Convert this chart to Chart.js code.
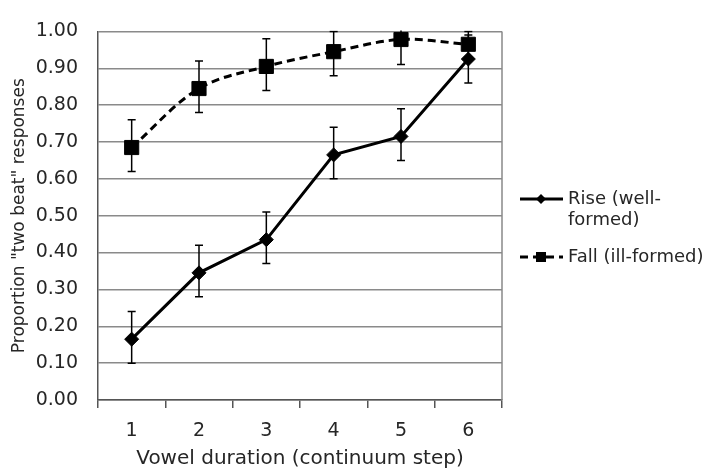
<!DOCTYPE html>
<html>
<head>
<meta charset="utf-8">
<script src="https://cdn.jsdelivr.net/npm/chart.js@4"></script>
<style>
  html, body { margin: 0; padding: 0; background: #fff; }
  #wrap { width: 709px; height: 469px; }
</style>
</head>
<body>
<div id="wrap"><canvas id="c" width="709" height="469"></canvas></div>
<script>
const steps = ['1', '2', '3', '4', '5', '6'];
const riseLabel = ['Rise (well-', 'formed)'];
const fallLabel = ['Fall (ill-formed)'];
const riseValues = [0.165, 0.345, 0.435, 0.665, 0.715, 0.925];
const riseLow = [0.10, 0.28, 0.37, 0.60, 0.65, 0.86];
const riseHigh = [0.24, 0.42, 0.51, 0.74, 0.79, 0.99];
const fallValues = [0.685, 0.845, 0.905, 0.945, 0.978, 0.965];
const fallLow = [0.62, 0.78, 0.84, 0.88, 0.91, 0.93];
const fallHigh = [0.76, 0.92, 0.98, 1.00, 1.04, 1.00];
const xTitle = 'Vowel duration (continuum step)';
const yTitle = 'Proportion "two beat" responses';

const FONT = '"DejaVu Sans", Verdana, sans-serif';
const TEXT = '#262626';

const errorBars = {
  id: 'errorBars',
  beforeDatasetsDraw(chart) {
    const ctx = chart.ctx;
    const y = chart.scales.y;
    const area = chart.chartArea;
    ctx.save();
    ctx.beginPath();
    ctx.rect(area.left, area.top - 1, area.right - area.left, area.bottom - area.top + 2);
    ctx.clip();
    ctx.strokeStyle = '#000';
    ctx.lineWidth = 1.5;
    chart.data.datasets.forEach((ds, i) => {
      const meta = chart.getDatasetMeta(i);
      meta.data.forEach((pt, j) => {
        const x = pt.x;
        const yl = y.getPixelForValue(ds.errLow[j]);
        const yh = y.getPixelForValue(ds.errHigh[j]);
        ctx.beginPath();
        ctx.moveTo(x, yl); ctx.lineTo(x, yh);
        ctx.moveTo(x - 4, yl); ctx.lineTo(x + 4, yl);
        ctx.moveTo(x - 4, yh); ctx.lineTo(x + 4, yh);
        ctx.stroke();
      });
    });
    ctx.restore();
  }
};

const frameAndLegend = {
  id: 'frameAndLegend',
  afterDraw(chart) {
    const ctx = chart.ctx;
    const a = chart.chartArea;
    ctx.save();
    ctx.strokeStyle = '#888';
    ctx.lineWidth = 1.5;
    ctx.beginPath();
    ctx.moveTo(a.right, a.top); ctx.lineTo(a.right, a.bottom);
    ctx.stroke();

    const items = [
      { ds: chart.data.datasets[0], y: 199, lines: riseLabel },
      { ds: chart.data.datasets[1], y: 257, lines: fallLabel }
    ];
    ctx.font = '18px ' + FONT;
    ctx.textBaseline = 'middle';
    ctx.textAlign = 'left';
    items.forEach(it => {
      const x0 = 520, x1 = 563, cx = 541;
      ctx.strokeStyle = '#000';
      ctx.lineWidth = 3;
      ctx.setLineDash(it.ds.borderDash || []);
      ctx.beginPath();
      ctx.moveTo(x0, it.y); ctx.lineTo(x1, it.y);
      ctx.stroke();
      ctx.setLineDash([]);
      ctx.fillStyle = '#000';
      ctx.beginPath();
      if (it.ds.pointStyle === 'rect') {
        ctx.rect(cx - 5, it.y - 5, 10, 10);
      } else {
        ctx.moveTo(cx, it.y - 5); ctx.lineTo(cx + 5, it.y);
        ctx.lineTo(cx, it.y + 5); ctx.lineTo(cx - 5, it.y);
        ctx.closePath();
      }
      ctx.fill();
      ctx.fillStyle = TEXT;
      it.lines.forEach((t, k) => ctx.fillText(t, 568, it.y + k * 21));
    });
    ctx.restore();
  }
};

new Chart(document.getElementById('c'), {
  type: 'line',
  data: {
    labels: steps,
    datasets: [
      {
        label: riseLabel.join(''),
        data: riseValues,
        errLow: riseLow,
        errHigh: riseHigh,
        borderColor: '#000',
        backgroundColor: '#000',
        borderWidth: 3,
        pointStyle: 'rectRot',
        pointRadius: 7,
        pointBorderWidth: 1,
        tension: 0
      },
      {
        label: fallLabel.join(''),
        data: fallValues,
        errLow: fallLow,
        errHigh: fallHigh,
        borderColor: '#000',
        backgroundColor: '#000',
        borderWidth: 3,
        borderDash: [8, 5],
        pointStyle: 'rect',
        pointRadius: 10,
        pointBorderWidth: 1,
        tension: 0.35,
        cubicInterpolationMode: 'default'
      }
    ]
  },
  options: {
    responsive: false,
    animation: false,
    devicePixelRatio: 1,
    layout: { padding: { top: 20, right: 207, left: 0, bottom: 0 } },
    plugins: { legend: { display: false }, tooltip: { enabled: false } },
    scales: {
      x: {
        type: 'category',
        offset: true,
        grid: { offset: true, drawOnChartArea: false, tickLength: 8, color: '#555', lineWidth: 1.5 },
        border: { color: '#555', width: 1.5 },
        ticks: { color: TEXT, font: { family: FONT, size: 19 }, padding: 12, maxRotation: 0 },
        title: { display: true, text: xTitle, color: TEXT, font: { family: FONT, size: 20, lineHeight: 1 }, padding: 0 },
        afterFit(s) { s.height = 69; }
      },
      y: {
        min: 0,
        max: 1,
        ticks: { stepSize: 0.1, color: TEXT, font: { family: FONT, size: 19 }, padding: 20,
                 callback: v => Number(v).toFixed(2) },
        grid: { color: '#8a8a8a', lineWidth: 1.5, drawTicks: false },
        border: { color: '#555', width: 1.5 },
        title: { display: true, text: yTitle, color: TEXT, font: { family: FONT, size: 17 }, padding: 9 },
        afterFit(s) { s.width = 98; }
      }
    }
  },
  plugins: [errorBars, frameAndLegend]
});
</script>
</body>
</html>
